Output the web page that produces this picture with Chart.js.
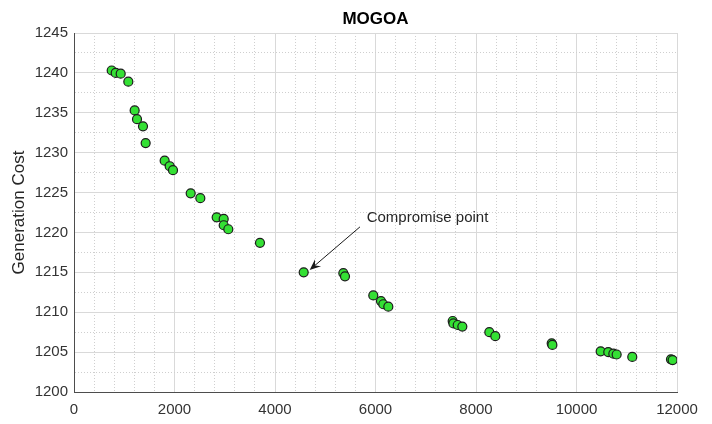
<!DOCTYPE html>
<html>
<head>
<meta charset="utf-8">
<script src="https://cdn.jsdelivr.net/npm/chart.js@4.4.1/dist/chart.umd.min.js"></script>
<style>
  body { margin: 0; background: #fff; overflow: hidden; }
</style>
</head>
<body>
<canvas id="paretoChart" width="712" height="424"></canvas>
<script>
// Pareto front points
emission = [750, 830, 929, 1081, 1207, 1254, 1373, 1426, 1804, 1904, 1970, 2322, 2514,
    2839, 2979, 2979, 3071, 3701, 4571, 5360, 5393, 5956, 6109, 6155, 6255,
    7536, 7550, 7636, 7728, 8265, 8384, 9506, 9520, 10481, 10632, 10733, 10799,
    11110, 11880, 11913];
cost = [1240.3, 1240.0, 1239.9, 1238.9, 1235.3, 1234.2, 1233.3, 1231.2, 1229.0, 1228.3, 1227.8, 1224.9, 1224.3,
    1221.9, 1221.7, 1220.9, 1220.4, 1218.7, 1215.0, 1214.9, 1214.5, 1212.1, 1211.4, 1211.0, 1210.7,
    1208.9, 1208.6, 1208.4, 1208.2, 1207.5, 1207.0, 1206.1, 1205.9, 1205.1, 1205.0, 1204.8, 1204.7,
    1204.4, 1204.1, 1204.0];

xTicks = [0, 2000, 4000, 6000, 8000, 10000, 12000];
yTicks = [1200, 1205, 1210, 1215, 1220, 1225, 1230, 1235, 1240, 1245];

// annotation: text anchor, arrow tail and tip in data units
noteText = 'Compromise point';
noteAt = [5824, 1221.8];
arrowFrom = [5691, 1220.7];
arrowTo = [4690, 1215.3];

const points = emission.map((e, i) => ({x: e, y: cost[i]}));

function isMajor(value, list) {
    return list.some(v => Math.abs(v - value) < 1e-6);
}

// draws the arrow and its text on top of the points
const notePlugin = {
    id: 'note',
    afterDatasetsDraw(chart) {
        const ctx = chart.ctx;
        const xs = chart.scales.x, ys = chart.scales.y;
        const x0 = xs.getPixelForValue(arrowFrom[0]), y0 = ys.getPixelForValue(arrowFrom[1]);
        const x1 = xs.getPixelForValue(arrowTo[0]), y1 = ys.getPixelForValue(arrowTo[1]);
        const ang = Math.atan2(y1 - y0, x1 - x0);

        ctx.save();
        ctx.strokeStyle = '#1a1a1a';
        ctx.fillStyle = '#1a1a1a';
        ctx.lineWidth = 1;
        ctx.beginPath();
        ctx.moveTo(x0, y0);
        ctx.lineTo(x1 - 6 * Math.cos(ang), y1 - 6 * Math.sin(ang));
        ctx.stroke();

        // arrow head
        ctx.beginPath();
        ctx.moveTo(x1, y1);
        ctx.lineTo(x1 - 12 * Math.cos(ang - 0.4), y1 - 12 * Math.sin(ang - 0.4));
        ctx.lineTo(x1 - 7 * Math.cos(ang), y1 - 7 * Math.sin(ang));
        ctx.lineTo(x1 - 12 * Math.cos(ang + 0.4), y1 - 12 * Math.sin(ang + 0.4));
        ctx.closePath();
        ctx.fill();

        ctx.fillStyle = '#262626';
        ctx.font = '15px "Liberation Sans", Arial, sans-serif';
        ctx.textBaseline = 'middle';
        ctx.textAlign = 'left';
        ctx.fillText(noteText, xs.getPixelForValue(noteAt[0]), ys.getPixelForValue(noteAt[1]));
        ctx.restore();
    }
};

const fontFamily = '"Liberation Sans", Arial, sans-serif';

new Chart(document.getElementById('paretoChart'), {
    type: 'scatter',
    data: {
        datasets: [{
            data: points,
            backgroundColor: '#34e034',
            borderColor: '#1c1c1c',
            borderWidth: 1.2,
            pointRadius: 4.5,
            pointHoverRadius: 4.5
        }]
    },
    options: {
        responsive: false,
        animation: false,
        layout: { padding: { left: 0, right: 35, top: 0, bottom: 0 } },
        plugins: {
            legend: { display: false },
            tooltip: { enabled: false },
            title: {
                display: true,
                text: 'MOGOA',
                fullSize: false,
                color: '#000',
                font: { family: fontFamily, size: 17, weight: 'bold' },
                padding: { top: 9, bottom: 3.6 }
            }
        },
        scales: {
            x: {
                type: 'linear',
                min: 0,
                max: 12000,
                afterFit: (scale) => { scale.height = 32; },
                ticks: {
                    stepSize: 400,
                    autoSkip: false,
                    maxRotation: 0,
                    padding: 9,
                    color: '#333',
                    font: { family: fontFamily, size: 15 },
                    callback: (v) => isMajor(v, xTicks) ? v : ''
                },
                grid: {
                    drawTicks: false,
                    color: (c) => isMajor(c.tick.value, xTicks) ? '#d9d9d9' : '#cfcfcf'
                },
                border: {
                    color: '#4d4d4d',
                    width: 1,
                    dash: (c) => (c.tick && !isMajor(c.tick.value, xTicks)) ? [1, 2] : []
                }
            },
            y: {
                type: 'linear',
                min: 1200,
                max: 1245,
                afterFit: (scale) => { scale.width = 74; },
                title: {
                    display: true,
                    text: 'Generation Cost',
                    color: '#262626',
                    font: { family: fontFamily, size: 17 },
                    padding: { top: 9, bottom: 0 }
                },
                ticks: {
                    stepSize: 2.5,
                    autoSkip: false,
                    padding: 6,
                    color: '#333',
                    font: { family: fontFamily, size: 15 },
                    callback: (v) => isMajor(v, yTicks) ? v : ''
                },
                grid: {
                    drawTicks: false,
                    color: (c) => isMajor(c.tick.value, yTicks) ? '#d9d9d9' : '#cfcfcf'
                },
                border: {
                    color: '#4d4d4d',
                    width: 1,
                    dash: (c) => (c.tick && !isMajor(c.tick.value, yTicks)) ? [1, 2] : []
                }
            }
        }
    },
    plugins: [notePlugin]
});
</script>
</body>
</html>
